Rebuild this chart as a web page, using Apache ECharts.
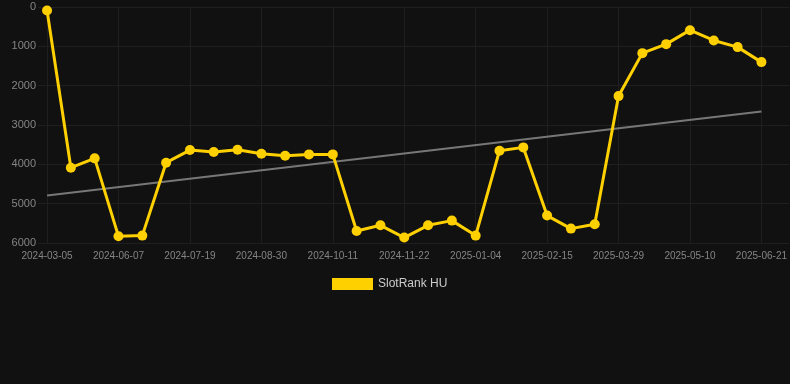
<!DOCTYPE html>
<html>
<head>
<meta charset="utf-8">
<script src="https://cdn.jsdelivr.net/npm/echarts@6/dist/echarts.min.js"></script>
<style>
  html, body { margin: 0; padding: 0; background: #111111; }
  #chart { width: 790px; height: 384px; }
</style>
</head>
<body>
<div id="chart"></div>
<script>
const dates = [
  '2024-03-05', '', '', '2024-06-07', '', '', '2024-07-19', '', '', '2024-08-30', '', '',
  '2024-10-11', '', '', '2024-11-22', '', '', '2025-01-04', '', '', '2025-02-15', '', '',
  '2025-03-29', '', '', '2025-05-10', '', '', '2025-06-21'
];
const rankHU = [
  90, 4085, 3848, 5830, 5812, 3958, 3637, 3688, 3628, 3730, 3780, 3747, 3747, 5694, 5550, 5862,
  5550, 5431, 5812, 3653, 3569, 5303, 5634, 5524, 2265, 1173, 944, 589, 851, 1020, 1401
];
const labelIdx = [0, 3, 6, 9, 12, 15, 18, 21, 24, 27, 30];

// least squares trend over the series
const n = rankHU.length;
let sx = 0, sy = 0, sxx = 0, sxy = 0;
rankHU.forEach((v, i) => { sx += i; sy += v; sxx += i * i; sxy += i * v; });
const slope = (n * sxy - sx * sy) / (n * sxx - sx * sx);
const icpt = (sy - slope * sx) / n;

const font = 'Liberation Sans, Arial, sans-serif';
const myChart = echarts.init(document.getElementById('chart'));
const option = {
  backgroundColor: '#111111',
  animation: false,
  grid: { left: 38, right: 0, top: 7, bottom: 141, containLabel: false },
  legend: {
    bottom: 89,
    left: 327,
    itemWidth: 41,
    itemHeight: 12,
    icon: 'rect',
    textStyle: { color: '#cccccc', fontSize: 12, fontFamily: font },
    data: ['SlotRank HU']
  },
  xAxis: {
    type: 'value',
    min: -0.38,
    max: 31.18,
    axisLine: { show: false },
    axisTick: { show: false, customValues: labelIdx },
    axisLabel: {
      customValues: labelIdx,
      formatter: (v) => dates[Math.round(v)],
      color: '#858585',
      fontSize: 10,
      margin: 8,
      fontFamily: font
    },
    splitLine: { show: true, lineStyle: { color: '#1f1f1f', width: 1 } }
  },
  yAxis: {
    type: 'value',
    inverse: true,
    min: 0,
    max: 6000,
    interval: 1000,
    axisLine: { show: false },
    axisTick: { show: false },
    axisLabel: { color: '#858585', fontSize: 11, margin: 2, fontFamily: font, formatter: (v) => String(v) },
    splitLine: { lineStyle: { color: '#1f1f1f', width: 1 } }
  },
  series: [
    {
      name: 'SlotRank HU',
      type: 'line',
      data: rankHU.map((v, i) => [i, v]),
      symbol: 'circle',
      symbolSize: 10,
      lineStyle: { color: '#FFD000', width: 3 },
      itemStyle: { color: '#FFD000' },
      z: 3
    },
    {
      name: 'trend',
      type: 'line',
      data: [[0, icpt], [n - 1, icpt + slope * (n - 1)]],
      symbol: 'none',
      lineStyle: { color: '#777777', width: 2 },
      z: 2
    }
  ]
};
myChart.setOption(option);
</script>
</body>
</html>
